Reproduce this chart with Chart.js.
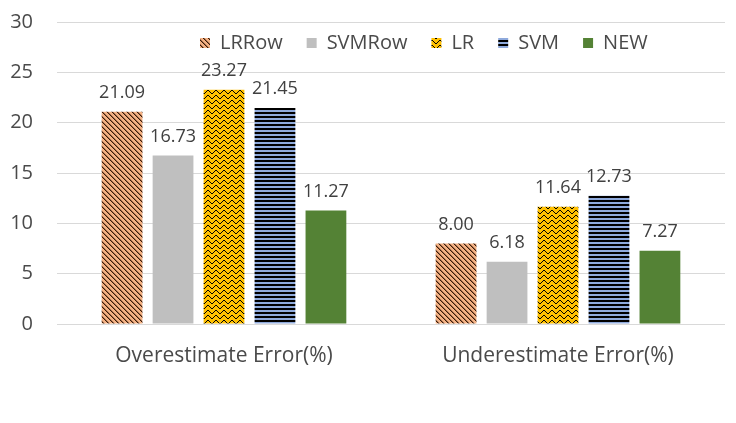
<!DOCTYPE html>
<html><head><meta charset="utf-8">
<script src="https://cdn.jsdelivr.net/npm/chart.js@4"></script>
<style>html,body{margin:0;padding:0;background:#fff}#wrap{width:736px;height:423px}</style>
</head><body><div id="wrap"><canvas id="c" width="736" height="423"></canvas></div>
<script>
const categories = ["Overestimate Error(%)", "Underestimate Error(%)"];
const seriesNames = ["LRRow", "SVMRow", "LR", "SVM", "NEW"];
const lrRow = [21.09, 8.00];
const svmRow = [16.73, 6.18];
const lr = [23.27, 11.64];
const svm = [21.45, 12.73];
const newer = [11.27, 7.27];
const yTicks = [0, 5, 10, 15, 20, 25, 30];

const FONT = "'Open Sans', sans-serif";

function mkPattern(w, h, draw) {
  const c = document.createElement('canvas');
  c.width = w; c.height = h;
  const x = c.getContext('2d');
  draw(x, w, h);
  return x.createPattern(c, 'repeat');
}
const ctxMain = document.getElementById('c').getContext('2d');
const pDiag = mkPattern(5, 5, (x, w, h) => {
  x.fillStyle = '#F4B183'; x.fillRect(0, 0, w, h);
  x.fillStyle = '#3a1a08';
  for (let i = 0; i < w; i++) x.fillRect(i, i, 1, 1);
  x.fillStyle = 'rgba(58,26,8,0.45)';
  for (let i = 0; i < w; i++) x.fillRect((i + 1) % w, i, 1, 1);
});
const pZig = mkPattern(8, 5, (x, w, h) => {
  x.fillStyle = '#FFC000'; x.fillRect(0, 0, w, h);
  x.fillStyle = '#000';
  const ys = [0, 1, 2, 3, 3, 2, 1, 0];
  for (let i = 0; i < 8; i++) x.fillRect(i, ys[i], 1, 1);
});
const pHoriz = mkPattern(4, 4, (x, w, h) => {
  x.fillStyle = '#8FAADC'; x.fillRect(0, 0, w, h);
  x.fillStyle = '#000'; x.fillRect(0, 0, w, 2);
});
const fills = [pDiag, '#BFBFBF', pZig, pHoriz, '#548235'];
const seriesData = [lrRow, svmRow, lr, svm, newer];

const dataLabels = {
  id: 'dataLabels',
  afterDatasetsDraw(chart) {
    const c = chart.ctx;
    c.save();
    c.font = "18px " + FONT;
    c.fillStyle = '#404040';
    c.textAlign = 'center';
    c.textBaseline = 'bottom';
    chart.data.datasets.forEach((ds, di) => {
      chart.getDatasetMeta(di).data.forEach((el, i) => {
        c.fillText(ds.data[i].toFixed(2), el.x, el.y - 10);
      });
    });
    c.restore();
  }
};
const legendPlugin = {
  id: 'customLegend',
  afterDraw(chart) {
    const c = chart.ctx;
    c.save();
    c.font = "20px " + FONT;
    c.textBaseline = 'middle';
    let x = 200;
    const y = 43;
    chart.data.datasets.forEach((ds) => {
      c.fillStyle = ds.backgroundColor;
      c.fillRect(x, y - 5, 10, 10);
      c.fillStyle = '#4a4a4a';
      c.fillText(ds.label, x + 20, y);
      x += 20 + c.measureText(ds.label).width + 24;
    });
    c.restore();
  }
};

new Chart(ctxMain, {
  type: 'bar',
  data: {
    labels: categories,
    datasets: seriesNames.map((n, i) => ({
      label: n, data: seriesData[i], backgroundColor: fills[i],
      borderWidth: 0, categoryPercentage: 0.763, barPercentage: 0.8
    }))
  },
  options: {
    responsive: false, animation: false,
    layout: { padding: { top: 22, right: 11, bottom: 0, left: 0 } },
    plugins: { legend: { display: false }, tooltip: { enabled: false } },
    scales: {
      x: {
        grid: { display: false, drawTicks: false },
        border: { display: false },
        ticks: { color: '#4a4a4a', font: { family: FONT, size: 21 }, padding: 19, maxRotation: 0 },
        afterFit(s) { s.height = 99; }
      },
      y: {
        min: 0, max: 30,
        afterBuildTicks(s) { s.ticks = yTicks.map(v => ({ value: v })); },
        grid: { color: '#D9D9D9', drawTicks: false, lineWidth: 1 },
        border: { display: false },
        ticks: { color: '#4a4a4a', font: { family: FONT, size: 20 }, padding: 24 },
        afterFit(s) { s.width = 57; s.paddingTop = 0; s.paddingBottom = 0; }
      }
    }
  },
  plugins: [dataLabels, legendPlugin]
});
</script></body></html>
